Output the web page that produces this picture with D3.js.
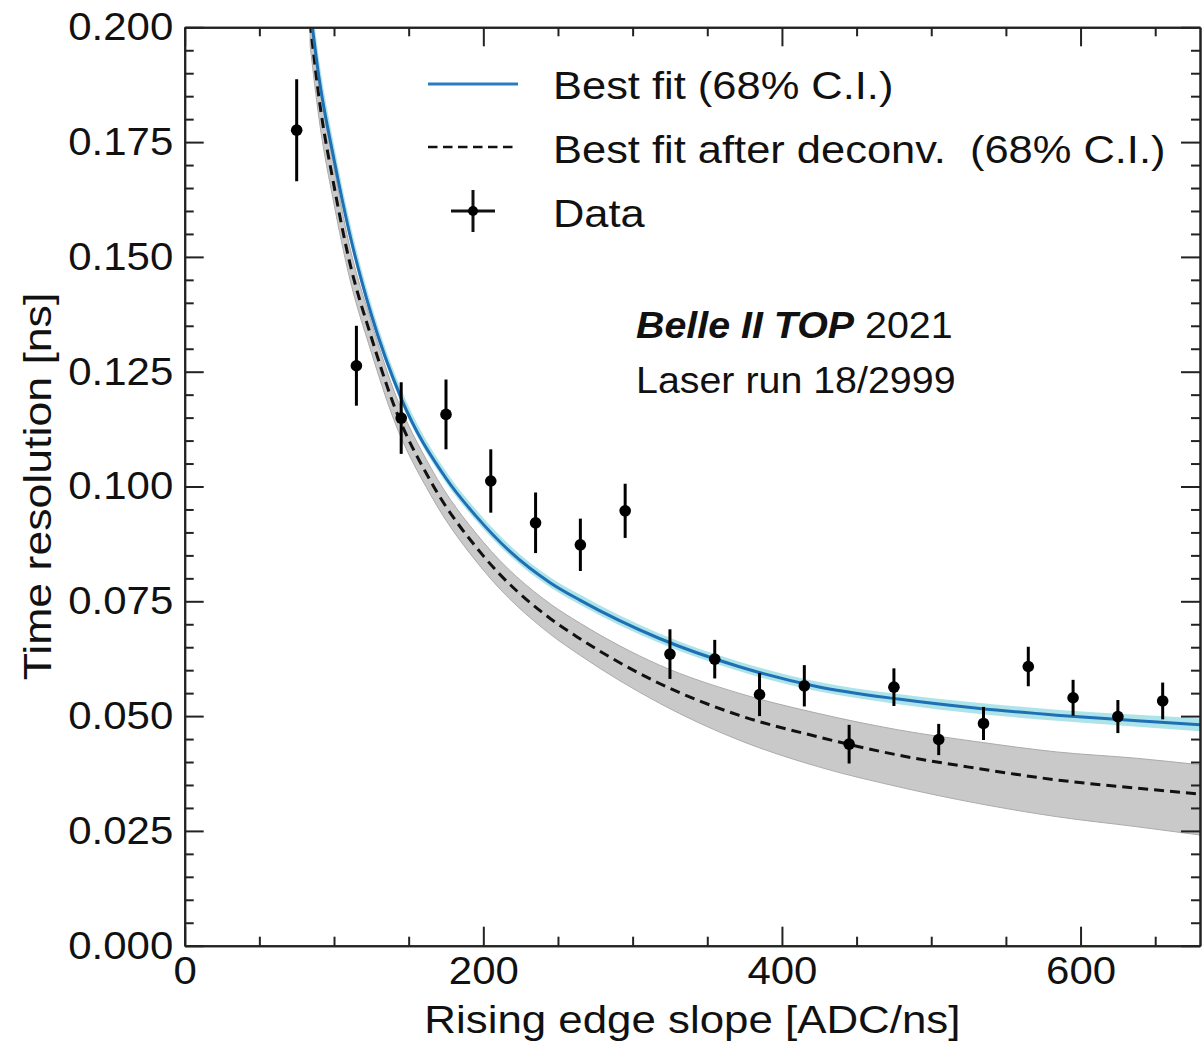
<!DOCTYPE html>
<html>
<head>
<meta charset="utf-8">
<script src="https://cdn.jsdelivr.net/npm/d3@7"></script>
<style>
  body { margin: 0; background: #fff; }
  svg { display: block; font-family: "Liberation Sans", Arial, Helvetica, sans-serif; }
  .axis path, .axis line { stroke: #222; stroke-width: 2; }
</style>
</head>
<body>
<div id="chart"></div>
<script>
// Data points (rising edge slope vs time resolution)
const slope = [75, 115, 145, 175, 205, 235, 265, 295, 325, 355, 385, 415, 445, 475, 505, 535, 565, 595, 625, 655];
const resolution = [0.1776, 0.1263, 0.1149, 0.1157, 0.1012, 0.0921, 0.0873, 0.0947, 0.0635, 0.0624,
                    0.0547, 0.0566, 0.0439, 0.0563, 0.0449, 0.0484, 0.0608, 0.0540, 0.0499, 0.0533];
const resErr = [0.0111, 0.0087, 0.0078, 0.0076, 0.0069, 0.0066, 0.0057, 0.0059, 0.0054, 0.0042,
                0.0047, 0.0045, 0.0042, 0.0041, 0.0034, 0.0036, 0.0043, 0.0039, 0.0036, 0.0040];

// Best fit curve + 68% band
const fitX  = [84, 90, 100, 110, 125, 145, 175, 195, 218, 245, 265, 318, 371, 424, 478, 531, 584, 638, 680];
const fitY  = [0.2040, 0.1889, 0.1712, 0.1557, 0.1374, 0.1192, 0.1018, 0.0936, 0.0858, 0.0790, 0.0752,
               0.0669, 0.0608, 0.0564, 0.0537, 0.0517, 0.0502, 0.0490, 0.0481];
const fitHi = [0.2090, 0.1930, 0.1745, 0.1585, 0.1397, 0.1212, 0.1033, 0.0950, 0.0871, 0.0802, 0.0764,
               0.0680, 0.0619, 0.0575, 0.0548, 0.0529, 0.0514, 0.0503, 0.0495];
const fitLo = [0.2025, 0.1873, 0.1700, 0.1546, 0.1364, 0.1183, 0.1008, 0.0926, 0.0848, 0.0780, 0.0742,
               0.0659, 0.0598, 0.0554, 0.0526, 0.0505, 0.0490, 0.0477, 0.0467];

// Best fit after deconvolution + 68% band
const decX  = [84, 90, 100, 110, 125, 140, 165, 200, 245, 265, 318, 371, 424, 478, 531, 584, 638, 680];
const decY  = [0.2010, 0.1845, 0.1655, 0.1495, 0.1325, 0.1178, 0.1010, 0.0849, 0.0712, 0.0668,
               0.0571, 0.0502, 0.0455, 0.0415, 0.0386, 0.0361, 0.0343, 0.0330];
const decHi = [0.2060, 0.1890, 0.1695, 0.1530, 0.1358, 0.1210, 0.1040, 0.0879, 0.0744, 0.0702,
               0.0611, 0.0550, 0.0506, 0.0470, 0.0444, 0.0422, 0.0408, 0.0394];
const decLo = [0.1960, 0.1800, 0.1615, 0.1460, 0.1292, 0.1146, 0.0980, 0.0818, 0.0678, 0.0632,
               0.0528, 0.0448, 0.0390, 0.0346, 0.0310, 0.0281, 0.0259, 0.0241];

const xTicks = [0, 200, 400, 600];
const yTicks = [0, 0.025, 0.05, 0.075, 0.1, 0.125, 0.15, 0.175, 0.2];

const width = 1204, height = 1047;
const plotLeft = 184.7, plotRight = 1200, plotTop = 27.3, plotBottom = 945.7;

const svg = d3.select("#chart").append("svg")
  .attr("width", width)
  .attr("height", height);

const x = d3.scaleLinear().domain([0, 680]).range([plotLeft, plotRight]);
const y = d3.scaleLinear().domain([0, 0.2]).range([plotBottom, plotTop]);

svg.append("clipPath").attr("id", "plot")
  .append("rect")
  .attr("x", plotLeft).attr("y", plotTop)
  .attr("width", plotRight - plotLeft).attr("height", plotBottom - plotTop);

const plot = svg.append("g").attr("clip-path", "url(#plot)");

const zip = (xs, a, b) => xs.map((v, i) => ({ x: v, a: a[i], b: b ? b[i] : null }));

const band = d3.area()
  .x(d => x(d.x)).y0(d => y(d.a)).y1(d => y(d.b))
  .curve(d3.curveMonotoneX);
const line = d3.line()
  .x(d => x(d.x)).y(d => y(d.a))
  .curve(d3.curveMonotoneX);

// grey band for deconvolved fit
plot.append("path")
  .datum(zip(decX, decLo, decHi))
  .attr("d", band)
  .attr("fill", "#c9c9c9")
  .attr("stroke", "#ababab")
  .attr("stroke-width", 1);

// cyan band for best fit
plot.append("path")
  .datum(zip(fitX, fitLo, fitHi))
  .attr("d", band)
  .attr("fill", "#a9e3e9")
  .attr("opacity", 0.95);

plot.append("path")
  .datum(zip(decX, decY))
  .attr("d", line)
  .attr("fill", "none")
  .attr("stroke", "#111")
  .attr("stroke-width", 3)
  .attr("stroke-dasharray", "10,6");

plot.append("path")
  .datum(zip(fitX, fitY))
  .attr("d", line)
  .attr("fill", "none")
  .attr("stroke", "#1f6fb5")
  .attr("stroke-width", 3);

// data points with error bars
const pts = slope.map((s, i) => ({ s, r: resolution[i], e: resErr[i] }));

plot.selectAll(".err")
  .data(pts)
  .join("line")
    .attr("x1", d => x(d.s)).attr("x2", d => x(d.s))
    .attr("y1", d => y(d.r - d.e)).attr("y2", d => y(d.r + d.e))
    .attr("stroke", "#000").attr("stroke-width", 3);

plot.selectAll(".dot")
  .data(pts)
  .join("circle")
    .attr("cx", d => x(d.s))
    .attr("cy", d => y(d.r))
    .attr("r", 5.8)
    .attr("fill", "#000");

// axes — ticks point inward, mirrored on all four sides
const xMinor = d3.range(0, 681, 50).filter(v => v % 200 !== 0);
const yMinor = d3.range(0, 41).map(i => i * 0.005).filter((v, i) => i % 5 !== 0);

const tickSx = 1.09;

const gx = svg.append("g").attr("class", "axis")
  .attr("transform", `translate(0, ${plotBottom})`)
  .call(d3.axisBottom(x).tickValues(xTicks).tickSizeInner(-19).tickSizeOuter(0).tickPadding(11));
svg.append("g").attr("class", "axis")
  .attr("transform", `translate(0, ${plotBottom})`)
  .call(d3.axisBottom(x).tickValues(xMinor).tickSizeInner(-9).tickSizeOuter(0).tickFormat(""));

const gy = svg.append("g").attr("class", "axis")
  .attr("transform", `translate(${plotLeft}, 0)`)
  .call(d3.axisLeft(y).tickValues(yTicks).tickSizeInner(-19).tickSizeOuter(0).tickPadding(10.5)
    .tickFormat(d3.format(".3f")));
svg.append("g").attr("class", "axis")
  .attr("transform", `translate(${plotLeft}, 0)`)
  .call(d3.axisLeft(y).tickValues(yMinor).tickSizeInner(-9).tickSizeOuter(0).tickFormat(""));

svg.append("g").attr("class", "axis")
  .attr("transform", `translate(0, ${plotTop})`)
  .call(d3.axisTop(x).tickValues(xTicks).tickSizeInner(-19).tickSizeOuter(0).tickFormat(""));
svg.append("g").attr("class", "axis")
  .attr("transform", `translate(0, ${plotTop})`)
  .call(d3.axisTop(x).tickValues(xMinor).tickSizeInner(-9).tickSizeOuter(0).tickFormat(""));

svg.append("g").attr("class", "axis")
  .attr("transform", `translate(${plotRight}, 0)`)
  .call(d3.axisRight(y).tickValues(yTicks).tickSizeInner(-19).tickSizeOuter(0).tickFormat(""));
svg.append("g").attr("class", "axis")
  .attr("transform", `translate(${plotRight}, 0)`)
  .call(d3.axisRight(y).tickValues(yMinor).tickSizeInner(-9).tickSizeOuter(0).tickFormat(""));

[gx, gy].forEach(g => g.selectAll(".tick text")
  .attr("font-size", 38.5)
  .attr("font-family", "Liberation Sans, Arial, sans-serif")
  .attr("fill", "#111")
  .attr("transform", `scale(${tickSx},1)`));

// text helper: horizontal stretch to match the reference glyph widths
const addText = (px, py, str, size, sx, anchor, rot) => svg.append("text")
  .attr("transform", `translate(${px},${py})${rot ? ` rotate(${rot})` : ""} scale(${sx},1)`)
  .attr("text-anchor", anchor || "start")
  .attr("font-size", size)
  .attr("fill", "#111")
  .text(str);

addText((plotLeft + plotRight) / 2, 1033, "Rising edge slope [ADC/ns]", 39.5, 1.11, "middle");
addText(51, (plotTop + plotBottom) / 2, "Time resolution [ns]", 39.5, 1.13, "middle", -90);

// legend
svg.append("line")
  .attr("x1", 428).attr("x2", 518).attr("y1", 84).attr("y2", 84)
  .attr("stroke", "#2a7cc0").attr("stroke-width", 3);
svg.append("line")
  .attr("x1", 428).attr("x2", 518).attr("y1", 147).attr("y2", 147)
  .attr("stroke", "#111").attr("stroke-width", 2.5).attr("stroke-dasharray", "9.5,5.5");
svg.append("line")
  .attr("x1", 473).attr("x2", 473).attr("y1", 190).attr("y2", 232)
  .attr("stroke", "#111").attr("stroke-width", 3);
svg.append("line")
  .attr("x1", 451).attr("x2", 495).attr("y1", 211).attr("y2", 211)
  .attr("stroke", "#111").attr("stroke-width", 3);
svg.append("circle").attr("cx", 473).attr("cy", 211).attr("r", 5).attr("fill", "#000");

addText(553, 99, "Best fit (68% C.I.)", 39.5, 1.1);
addText(553, 163, "Best fit after deconv.  (68% C.I.)", 39.5, 1.1).style("white-space", "pre");
addText(553, 227, "Data", 39.5, 1.1);

// experiment label
const tag = svg.append("text")
  .attr("transform", "translate(636,338) scale(1.05,1)")
  .attr("font-size", 37.5)
  .attr("fill", "#111");
tag.append("tspan").attr("font-weight", "bold").attr("font-style", "italic").text("Belle II TOP");
tag.append("tspan").text(" 2021");

addText(636, 393, "Laser run 18/2999", 37.5, 1.05);
</script>
</body>
</html>
